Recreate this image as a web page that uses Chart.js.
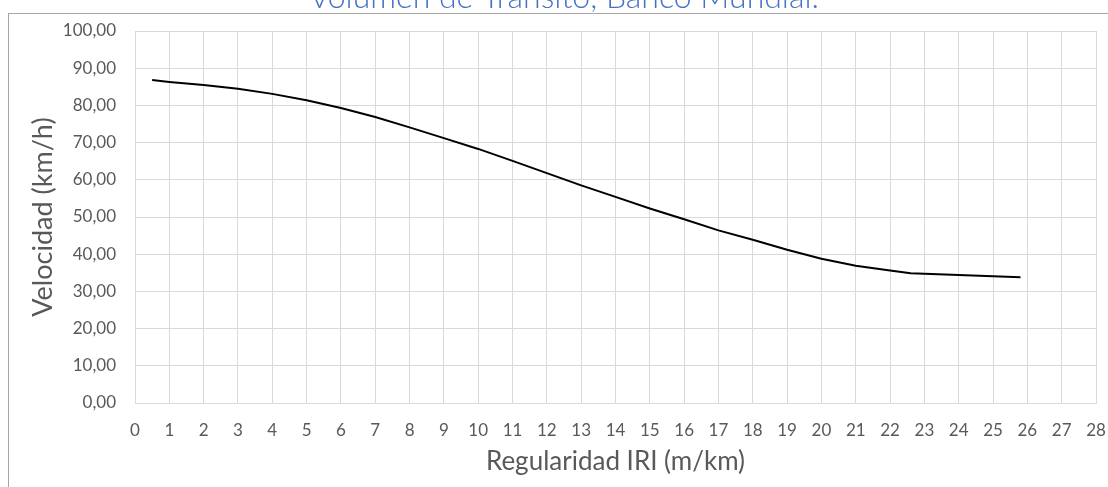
<!DOCTYPE html>
<html>
<head>
<meta charset="utf-8">
<script src="https://cdn.jsdelivr.net/npm/chart.js@4.4.1/dist/chart.umd.min.js"></script>
<style>
  html, body { margin: 0; padding: 0; background: #fff; overflow: hidden; }
  #wrap { position: relative; width: 1108px; height: 487px; }
</style>
</head>
<body>
<div id="wrap"><canvas id="velChart" width="1108" height="487"></canvas></div>
<script>
// valores
const iri = [0.5, 1, 2, 3, 4, 5, 6, 7, 8, 9, 10, 11, 12, 13, 14, 15, 16, 17, 18, 19, 20, 21, 22, 22.6, 25.8];
const velocidad = [86.8, 86.3, 85.5, 84.5, 83.1, 81.4, 79.3, 76.9, 74.1, 71.2, 68.3, 65.1, 61.8, 58.5, 55.4, 52.3, 49.4, 46.4, 43.9, 41.2, 38.8, 36.9, 35.6, 34.9, 33.8];

const tituloGrafico = 'Volumen de Tránsito, Banco Mundial.';
const tituloX = 'Regularidad IRI (m/km)';
const tituloY = 'Velocidad (km/h)';

const colorTexto = '#595959';
const colorGrid = '#d9d9d9';

// marco exterior y titulo (cortado arriba, como en la captura)
const marcoPlugin = {
  id: 'marco',
  beforeDraw(chart) {
    const ctx = chart.ctx;
    ctx.save();
    ctx.strokeStyle = '#a6a6a6';
    ctx.lineWidth = 1;
    ctx.strokeRect(8.5, 13.5, 1200, 600);
    ctx.fillStyle = '#4472c4';
    ctx.font = '300 32px Lato';
    ctx.textAlign = 'center';
    ctx.textBaseline = 'alphabetic';
    ctx.fillText(tituloGrafico, 564, 8);
    ctx.restore();
  }
};

const puntos = iri.map((x, i) => ({ x: x, y: velocidad[i] }));

new Chart(document.getElementById('velChart').getContext('2d'), {
  type: 'line',
  data: {
    datasets: [{
      label: tituloY,
      data: puntos,
      borderColor: '#000000',
      borderWidth: 2,
      pointRadius: 0,
      tension: 0,
      fill: false
    }]
  },
  options: {
    responsive: false,
    animation: false,
    layout: { padding: { top: 31, right: 12, left: 0, bottom: 0 } },
    plugins: {
      legend: { display: false },
      tooltip: { enabled: false }
    },
    scales: {
      x: {
        type: 'linear',
        min: 0,
        max: 28,
        ticks: {
          stepSize: 1,
          autoSkip: false,
          maxRotation: 0,
          color: colorTexto,
          font: { family: 'Lato', size: 17 },
          padding: 0
        },
        // marcas invisibles: solo separan las etiquetas del eje
        grid: { color: colorGrid, drawTicks: true, tickLength: 17, tickColor: 'rgba(0,0,0,0)' },
        border: { color: colorGrid },
        title: {
          display: true,
          text: tituloX,
          color: colorTexto,
          font: { family: 'Lato', size: 26 },
          padding: { top: 0, bottom: 10 }
        },
        afterFit(scale) { scale.height = 84; }
      },
      y: {
        min: 0,
        max: 100,
        ticks: {
          stepSize: 10,
          color: colorTexto,
          font: { family: 'Lato', size: 17 },
          padding: 19,
          callback: v => v.toFixed(2).replace('.', ',')
        },
        grid: { color: colorGrid, drawTicks: false },
        border: { color: colorGrid },
        title: {
          display: true,
          text: tituloY,
          color: colorTexto,
          font: { family: 'Lato', size: 27 },
          padding: { top: 27, bottom: 0 }
        },
        afterFit(scale) { scale.width = 135; }
      }
    }
  },
  plugins: [marcoPlugin]
});
</script>
</body>
</html>
